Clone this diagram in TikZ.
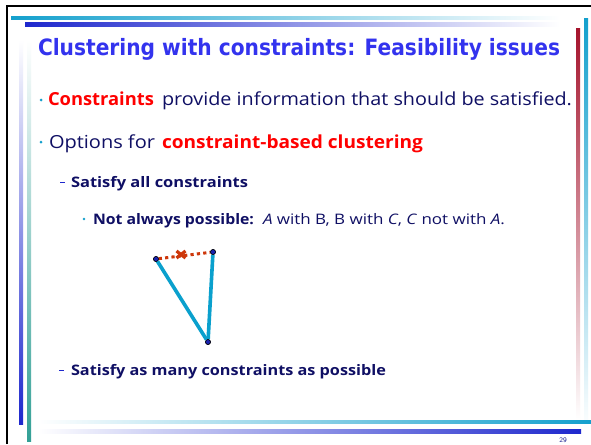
\documentclass[tikz,border=0pt]{standalone}
\usepackage{fontspec}
\setmainfont{Open Sans}
\newfontfamily\titlefont{DejaVu Sans}
\usepackage{graphicx}
\definecolor{navy}{RGB}{15,15,100}
\definecolor{titleblue}{RGB}{51,51,238}
\definecolor{hired}{RGB}{255,0,0}
\definecolor{tealA}{RGB}{20,160,205}
\definecolor{tealB}{RGB}{50,160,150}
\definecolor{barblue}{RGB}{30,40,205}
\definecolor{barred}{RGB}{165,20,45}
\definecolor{linkteal}{RGB}{10,160,205}
\definecolor{dotred}{RGB}{205,55,10}
\newlength\fitlen
\newcommand\fitw[2]{\settowidth\fitlen{#2}\pgfmathsetmacro\fitr{#1/\fitlen}\scalebox{\fitr}[1]{#2}}
\begin{document}
\begin{tikzpicture}[x=1pt,y=-1pt,
  txt/.style={anchor=base west,inner sep=0pt,outer sep=0pt,text=navy},
  big/.style={font=\fontsize{18}{20}\selectfont},
  small/.style={font=\fontsize{14.5}{16}\selectfont\bfseries},
  redword/.style={text=hired,font=\fontsize{18}{20}\selectfont\bfseries},
  bul/.style={circle,fill=tealA,inner sep=0pt,minimum size=3pt},
  dsh/.style={draw=barblue,line width=1pt},
  pt/.style={circle,fill=barblue!85!black,draw=black,line width=0.5pt,inner sep=0pt,minimum size=5pt},
  link/.style={draw=linkteal,line width=3.6pt},
  mustnot/.style={draw=dotred,line width=3pt,dash pattern=on 3.2pt off 3.2pt},
  crossmark/.style={draw=dotred,line width=3.2pt}]
\useasboundingbox (0,0) rectangle (591,444);
\fill[white] (0,0) rectangle (591,444);
% frame
\draw[black,line width=1.8pt] (7,444) -- (7,6) -- (591,6);
% decorative bars
\shade[left color=tealA,right color=white] (11,17) rectangle (560,20);
\shade[left color=barblue,right color=white] (25,23) rectangle (560,27);
\shade[top color=barred,bottom color=white] (576,29) rectangle (580,420);
\shade[top color=tealA,bottom color=white] (584,19) rectangle (588,430);
\shade[top color=white,bottom color=barblue] (19,40) rectangle (23,424);
\shade[top color=white,bottom color=tealB] (27,40) rectangle (31,441);
\shade[left color=white,right color=tealA] (38,420) rectangle (591,423);
\shade[left color=white,right color=barblue] (38,429) rectangle (581,433);
\node[inner sep=0pt,text=barblue!70!black,font=\sffamily\fontsize{7}{8}\selectfont] (pg) at (563,440) {29};
% title
\node[txt,text=titleblue,font=\titlefont\fontsize{22.5}{24}\selectfont\bfseries] (title) at (38,56)
  {\fitw{522}{Clustering with constraints: Feasibility issues}};
% line 1
\node[bul] (b1) at (41,100) {};
\node[txt,redword] (l1a) at (48,105) {\fitw{106}{Constraints}};
\node[txt,big] (l1b) at (162,105) {\fitw{410}{provide information that should be satisfied.}};
% line 2
\node[bul] (b2) at (41,142) {};
\node[txt,big] (l2a) at (49,148) {\fitw{106}{Options for}};
\node[txt,redword] (l2b) at (162,148) {\fitw{261}{constraint-based clustering}};
% line 3
\coordinate (d3a) at (60,182); \coordinate (d3b) at (65,182);
\draw[dsh] (d3a) -- (d3b);
\node[txt,small] (l3) at (71,187) {\fitw{177}{Satisfy all constraints}};
% line 4
\node[bul,minimum size=2.6pt] (b4) at (84,219) {};
\node[txt,small] (l4a) at (93,224.5) {\fitw{161}{Not always possible:}};
\node[txt,font=\fontsize{14.5}{16}\selectfont] (l4b) at (263,224.5)
  {\fitw{242}{\textit{A} with B, B with \textit{C}, \textit{C} not with \textit{A}.}};
% triangle
\node[pt] (A) at (156,259) {};
\node[pt] (B) at (213,252) {};
\node[pt] (C) at (208,342) {};
\draw[link] (A) -- (C);
\draw[link] (B) -- (C);
\draw[mustnot] (A) -- (B);
\coordinate (X) at (181,254.5);
\draw[crossmark] ([shift={(-4.5,-3.5)}]X) -- ([shift={(4.5,3.5)}]X);
\draw[crossmark] ([shift={(-4.5,3.5)}]X) -- ([shift={(4.5,-3.5)}]X);
\node[pt] at (A) {};
\node[pt] at (B) {};
\node[pt] at (C) {};
% line 5
\coordinate (d5a) at (59,370); \coordinate (d5b) at (64,370);
\draw[dsh] (d5a) -- (d5b);
\node[txt,small] (l5) at (71,375) {\fitw{315}{Satisfy as many constraints as possible}};
\end{tikzpicture}
\end{document}
